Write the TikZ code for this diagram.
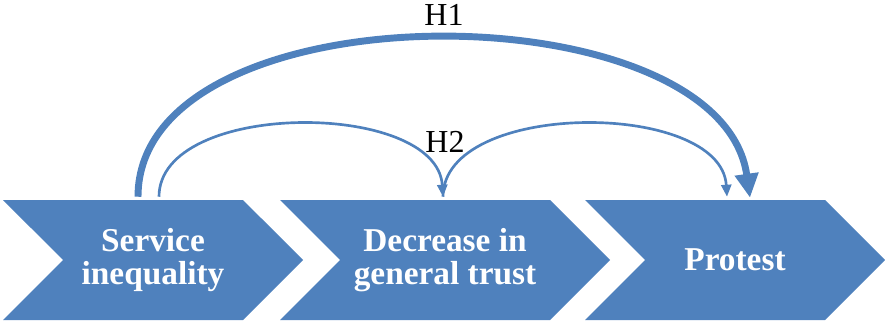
\documentclass[tikz,border=0pt]{standalone}
\usepackage{fontspec}
\setmainfont{Liberation Serif}
\usetikzlibrary{shapes.symbols,arrows.meta,calc}

\definecolor{accentblue}{HTML}{4F81BD}

\tikzset{
  stage/.style={signal, signal to=east, signal from=west, signal pointer angle=90,
    fill=accentblue, draw=none, text=white, align=center, inner sep=0pt,
    minimum height=90pt, font=\fontsize{25}{24.75}\selectfont\bfseries},
  hyp/.style={font=\fontsize{24}{28}\selectfont},
  strong/.style={draw=accentblue, line width=5.2pt, -{Triangle[width=17pt,length=18pt]}},
  weak/.style={draw=accentblue, line width=2pt, -{Triangle[width=7.5pt,length=9pt]}},
}

\begin{document}
\begin{tikzpicture}[x=0.75pt,y=0.75pt]
    \useasboundingbox (0,0) rectangle (885,-321);

    % Draw the three stages
    \node[stage, minimum width=225pt] (serv) at (153,-260) {Service\\inequality};
    \node[stage, minimum width=247.5pt] (trust) at (445,-260) {Decrease in\\general trust};
    \node[stage, minimum width=225pt] (prot) at (735,-260) {Protest};

    % Direct path (H1)
    \draw[strong] ($(serv.north)+(-15,3)$) .. controls +(0,211) and +(-30,211) .. ($(prot.north)+(15,2)$);

    % Indirect path (H2)
    \draw[weak] ($(serv.north)+(6,3)$) .. controls +(0,97) and +(-6,97) .. ($(trust.north)+(-2,3)$);
    \draw[weak] ($(trust.north)+(-2,3)$) .. controls +(0,97) and +(-6,97) .. ($(prot.north)+(-8,3)$);

    % Hypothesis labels
    \node[hyp, anchor=base] (h1) at (444,-26) {H1};
    \node[hyp, anchor=base] (h2) at (445,-152) {H2};
\end{tikzpicture}
\end{document}
